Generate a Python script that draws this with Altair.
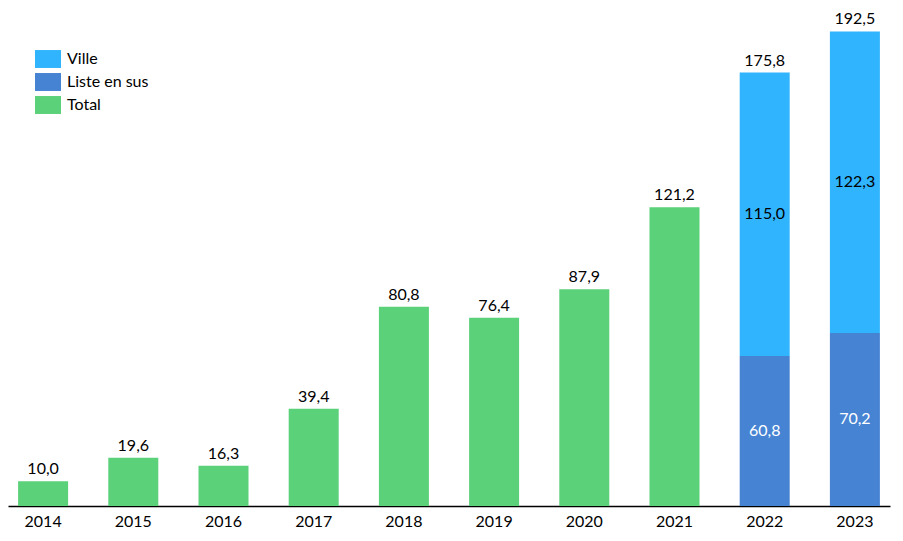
import altair as alt
import pandas as pd

years = ["2014", "2015", "2016", "2017", "2018", "2019", "2020", "2021", "2022", "2023"]
total_years = ["2014", "2015", "2016", "2017", "2018", "2019", "2020", "2021"]
total_values = [10.0, 19.6, 16.3, 39.4, 80.8, 76.4, 87.9, 121.2]
split_years = ["2022", "2023"]
liste_values = [60.8, 70.2]
ville_values = [115.0, 122.3]

series_names = ["Ville", "Liste en sus", "Total"]
series_colors = ["#31B4FE", "#4683D3", "#5BD17A"]


def fr(v):
    return f"{v:.1f}".replace(".", ",")


rows = []
for y, v in zip(total_years, total_values):
    rows.append({"year": y, "series": "Total", "value": v, "label": fr(v), "rank": 0})
for y, l, v in zip(split_years, liste_values, ville_values):
    rows.append({"year": y, "series": "Liste en sus", "value": l, "label": fr(l), "rank": 0})
    rows.append({"year": y, "series": "Ville", "value": v, "label": fr(v), "rank": 1})
df = pd.DataFrame(rows)

tot_rows = [{"year": y, "total": v, "label": fr(v)} for y, v in zip(total_years, total_values)]
for y, l, v in zip(split_years, liste_values, ville_values):
    tot_rows.append({"year": y, "total": round(l + v, 1), "label": fr(l + v)})
tdf = pd.DataFrame(tot_rows)

FONT = "Lato"

x_enc = alt.X(
    "year:N",
    sort=years,
    title=None,
    scale=alt.Scale(paddingInner=0.4457, paddingOuter=0.112, align=0.5),
    axis=alt.Axis(
        labelAngle=0,
        domainColor="#000000",
        domainWidth=1.5,
        ticks=False,
        labelPadding=7,
        labelFontSize=16,
        labelFont=FONT,
        labelColor="#000000",
        grid=False,
    ),
)
y_scale = alt.Scale(domain=[0, 202], nice=False, zero=True)

bars = alt.Chart(df).mark_bar().encode(
    x=x_enc,
    y=alt.Y("value:Q", stack="zero", scale=y_scale, axis=None),
    color=alt.Color(
        "series:N",
        scale=alt.Scale(domain=series_names, range=series_colors),
        legend=alt.Legend(
            title=None,
            orient="none",
            legendX=27,
            legendY=38,
            symbolType="M-1,-0.69H1V0.69H-1Z",
            symbolSize=676,
            symbolStrokeWidth=0,
            symbolOpacity=1,
            labelFontSize=16,
            labelFont=FONT,
            labelColor="#000000",
            labelOffset=6,
            rowPadding=1,
            padding=0,
        ),
    ),
    order=alt.Order("rank:Q", sort="ascending"),
)

seg_text = (
    alt.Chart(df)
    .transform_filter(alt.datum.series != "Total")
    .transform_stack(
        stack="value", groupby=["year"], sort=[alt.SortField("rank", order="ascending")], as_=["y0", "y1"]
    )
    .transform_calculate(mid="(datum.y0 + datum.y1) / 2")
    .mark_text(fontSize=16, font=FONT, baseline="middle")
    .encode(
        x=alt.X("year:N", sort=years),
        y=alt.Y("mid:Q", scale=y_scale),
        text="label:N",
        color=alt.condition(alt.datum.series == "Liste en sus", alt.value("#ffffff"), alt.value("#000000")),
    )
)

tot_text = (
    alt.Chart(tdf)
    .mark_text(fontSize=16, font=FONT, baseline="alphabetic", dy=-7, color="#000000")
    .encode(
        x=alt.X("year:N", sort=years),
        y=alt.Y("total:Q", scale=y_scale),
        text="label:N",
    )
)

chart = (
    alt.layer(bars, seg_text, tot_text)
    .properties(
        width=882,
        height=498,
        padding={"left": 0, "top": 0, "right": 3, "bottom": 22},
        autosize=alt.AutoSizeParams(type="none"),
    )
    .configure_view(stroke=None)
)

chart.save("out.html", embed_options={"renderer": "svg", "actions": False})
